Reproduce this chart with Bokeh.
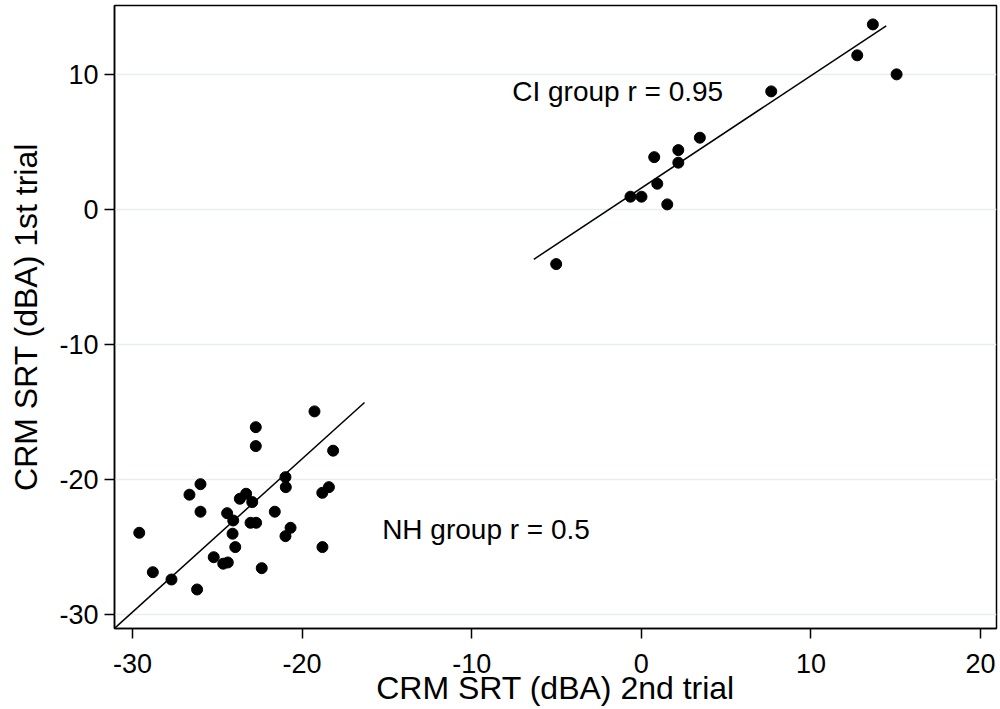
from bokeh.plotting import figure
from bokeh.models import Range1d, FixedTicker, Label
from bokeh.embed import file_html
from bokeh.resources import INLINE

# CI group (2nd trial, 1st trial)
ci_x = [-5.02, -0.64, 0.01, 0.94, 0.76, 1.53, 2.18, 2.18, 3.45, 7.66, 12.73, 13.65, 15.05]
ci_y = [-4.05, 0.94, 0.94, 1.90, 3.87, 0.37, 4.39, 3.46, 5.31, 8.74, 11.41, 13.70, 10.00]

# NH group (2nd trial, 1st trial)
nh_x = [-29.60, -28.80, -27.70, -26.19, -26.64, -25.99, -25.99, -25.21, -24.65, -24.38,
        -24.42, -24.06, -24.10, -23.94, -23.67, -23.30, -22.94, -23.04, -22.71, -22.73,
        -22.73, -22.38, -21.61, -20.98, -20.96, -20.98, -20.68, -19.27, -18.81, -18.42,
        -18.80, -18.17]
nh_y = [-23.95, -26.87, -27.41, -28.15, -21.13, -20.35, -22.39, -25.76, -26.24, -26.15,
        -22.50, -23.04, -24.02, -25.01, -21.43, -21.06, -21.68, -23.21, -23.21, -16.13,
        -17.53, -26.57, -22.39, -19.83, -20.57, -24.20, -23.58, -14.96, -20.99, -20.57,
        -25.01, -17.87]

# Fitted lines (endpoints)
ci_fit_x = [-6.34, 14.44]
ci_fit_y = [-3.70, 13.60]
nh_fit_x = [-32.0, -16.32]
nh_fit_y = [-32.10, -14.30]

x_ticks = [-30, -20, -10, 0, 10, 20]
y_ticks = [-30, -20, -10, 0, 10]
x_tick_labels = ["-30", "-20", "-10", "0", "10", "20"]
y_tick_labels = ["-30", "-20", "-10", "0", "10"]

FONT = "Liberation Sans"

p = figure(width=1000, height=709, output_backend="svg", toolbar_location=None,
           x_range=Range1d(-31.06, 20.94), y_range=Range1d(-31.04, 15.1),
           min_border_left=114, min_border_right=4, min_border_top=5, min_border_bottom=81)
p.background_fill_color = "white"
p.border_fill_color = "white"
p.outline_line_color = "black"
p.outline_line_width = 1.5

p.xgrid.grid_line_color = None
p.ygrid.grid_line_color = "#e6eef1"
p.ygrid.grid_line_width = 1.5

for ax in (p.xaxis[0], p.yaxis[0]):
    ax.axis_line_color = "black"
    ax.axis_line_width = 1.5
    ax.major_tick_line_color = "black"
    ax.major_tick_line_width = 1.5
    ax.major_tick_out = 10
    ax.major_tick_in = 0
    ax.minor_tick_line_color = None
    ax.major_label_text_font = FONT
    ax.major_label_text_font_size = "27px"
    ax.major_label_text_color = "black"
    ax.axis_label_text_font = FONT
    ax.axis_label_text_font_size = "32px"
    ax.axis_label_text_font_style = "normal"
    ax.axis_label_text_color = "black"

p.xaxis.ticker = FixedTicker(ticks=x_ticks)
p.yaxis.ticker = FixedTicker(ticks=y_ticks)
p.xaxis.major_label_overrides = {t: s for t, s in zip(x_ticks, x_tick_labels)}
p.yaxis.major_label_overrides = {t: s for t, s in zip(y_ticks, y_tick_labels)}
p.xaxis.axis_label = "CRM SRT (dBA) 2nd trial"
p.yaxis.axis_label = "CRM SRT (dBA) 1st trial"
p.xaxis.major_label_standoff = 15
p.yaxis.major_label_standoff = 6
p.xaxis.axis_label_standoff = -6
p.yaxis.axis_label_standoff = 12

p.line(ci_fit_x, ci_fit_y, line_color="black", line_width=1.5)
p.line(nh_fit_x, nh_fit_y, line_color="black", line_width=1.5)

p.scatter(ci_x, ci_y, size=11, color="black")
p.scatter(nh_x, nh_y, size=11, color="black")

p.add_layout(Label(x=-7.61, y=8.74, text="CI group r = 0.95", text_font=FONT,
                   text_font_size="28px", text_baseline="alphabetic", text_color="black"))
p.add_layout(Label(x=-15.28, y=-23.70, text="NH group r = 0.5", text_font=FONT,
                   text_font_size="28px", text_baseline="alphabetic", text_color="black"))

open("out.html", "w").write(file_html(p, INLINE))
